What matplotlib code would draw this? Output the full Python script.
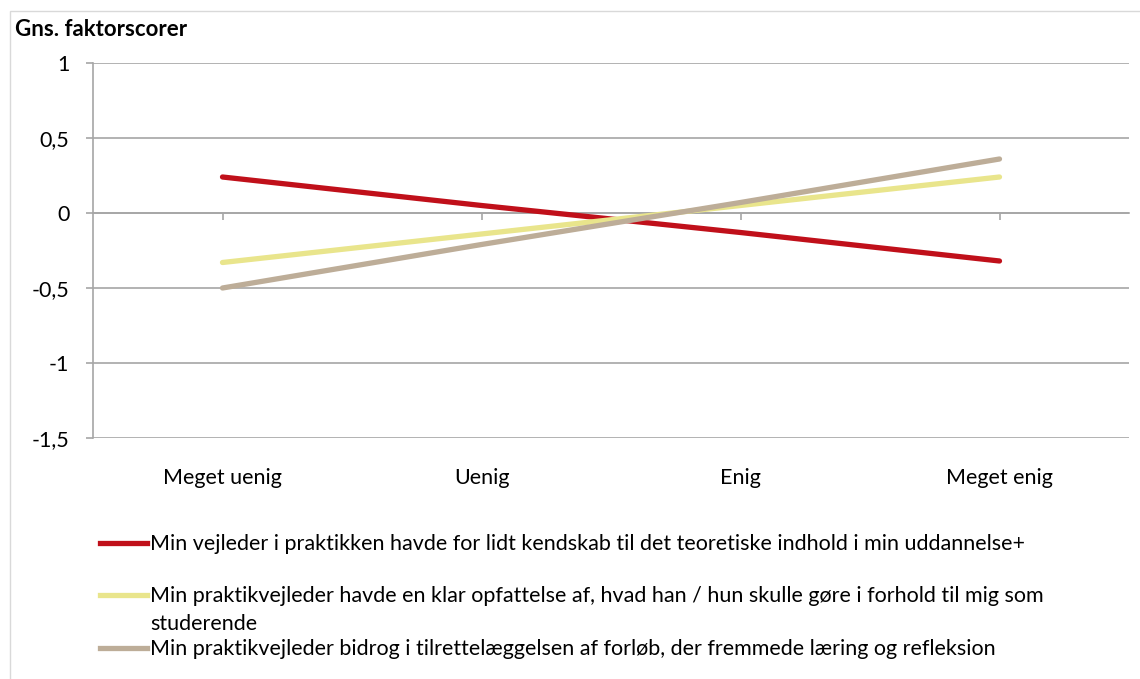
import matplotlib.pyplot as plt
from matplotlib.lines import Line2D
from matplotlib.patches import Rectangle
import matplotlib.transforms as mtransforms

plt.rcParams['font.family'] = ['Lato', 'DejaVu Sans']

kategorier = ['Meget uenig', 'Uenig', 'Enig', 'Meget enig']
vejleder_kendskab = [0.24, 0.05, -0.13, -0.32]
klar_opfattelse = [-0.33, -0.14, 0.05, 0.24]
bidrog_laering = [-0.50, -0.21, 0.07, 0.36]

etiketter = [
    'Min vejleder i praktikken havde for lidt kendskab til det teoretiske indhold i min uddannelse+',
    'Min praktikvejleder havde en klar opfattelse af, hvad han / hun skulle gøre i forhold til mig som\nstuderende',
    'Min praktikvejleder bidrog i tilrettelæggelsen af forløb, der fremmede læring og refleksion',
]
serier = [vejleder_kendskab, klar_opfattelse, bidrog_laering]
farver = ['#C0101A', '#E9E58C', '#BDAD98']
yticks = [1, 0.5, 0, -0.5, -1, -1.5]
ytick_labels = ['1', '0,5', '0', '-0,5', '-1', '-1,5']

W, H = 1140, 679
fs = 15.5
fig = plt.figure(figsize=(W / 100, H / 100), dpi=100)
ax = fig.add_axes([93 / W, 1 - 438 / H, 1036 / W, 375 / H])

x = list(range(len(kategorier)))
for vals, farve in zip(serier, farver):
    ax.plot(x, vals, color=farve, lw=3.8, solid_capstyle='round', zorder=3)

ax.set_xlim(-0.5, len(kategorier) - 0.5)
ax.set_ylim(-1.5, 1)
ax.set_yticks(yticks)
ax.set_yticklabels(ytick_labels, fontsize=fs)
for yv in yticks:
    ax.axhline(yv, color='#A6A6A6', lw=1.2, zorder=1)

for side in ['top', 'right']:
    ax.spines[side].set_visible(False)
ax.spines['left'].set_color('#A6A6A6')
ax.spines['left'].set_linewidth(1.2)
ax.spines['bottom'].set_position(('data', 0))
ax.spines['bottom'].set_color('#A6A6A6')
ax.spines['bottom'].set_linewidth(1.2)
ax.tick_params(axis='y', length=5, width=1.2, color='#A6A6A6', pad=12)
ax.set_xticks(x)
ax.tick_params(axis='x', length=5, width=1.2, color='#A6A6A6', labelbottom=False)

trans = mtransforms.blended_transform_factory(ax.transData, ax.transAxes)
for xi, kat in zip(x, kategorier):
    ax.text(xi, -0.107, kat, transform=trans, ha='center', va='center', fontsize=fs)

fig.text(15 / W, 1 - 29 / H, 'Gns. faktorscorer', fontsize=16, fontweight='bold',
         ha='left', va='center')

# legend drawn by hand, Excel style
rows = [543, 595, 648]
for y, farve, lab in zip(rows, farver, etiketter):
    fig.add_artist(Line2D([100 / W, 147 / W], [1 - y / H, 1 - y / H], color=farve, lw=3.8,
                          transform=fig.transFigure))
    if '\n' in lab:
        fig.text(150 / W, 1 - (y - 9) / H, lab, fontsize=fs, ha='left', va='top',
                 linespacing=1.5)
    else:
        fig.text(150 / W, 1 - (y + 1) / H, lab, fontsize=fs, ha='left', va='center')

fig.add_artist(Rectangle((10 / W, -0.01), 1.5, 1 - 11 / H + 0.01, transform=fig.transFigure,
                         fill=False, edgecolor='#D9D9D9', lw=1))

fig.savefig('out.png', dpi=100)
